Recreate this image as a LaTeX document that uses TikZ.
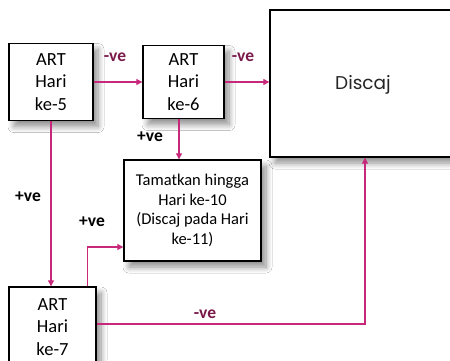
\documentclass[tikz,border=0pt]{standalone}
\usepackage{fontspec}
\setmainfont{Carlito}
\newfontfamily\discfont{Poppins}
\usetikzlibrary{arrows.meta,shadows.blur,calc}
\definecolor{arrowpink}{HTML}{C8287A}
\definecolor{negcol}{HTML}{7A1A4A}
\tikzset{
  box/.style={draw=black, line width=1.4pt, fill=white, align=center, inner sep=2pt,
    blur shadow={shadow xshift=5pt, shadow yshift=-6pt, shadow blur radius=6pt, shadow blur steps=10, shadow opacity=45}},
  conn/.style={draw=arrowpink, line width=1.1pt, -{Triangle[length=6pt,width=6pt]}},
  neglab/.style={text=negcol, font=\fontsize{17.5}{20}\selectfont\bfseries},
  poslab/.style={text=black, font=\fontsize{17.5}{20}\selectfont\bfseries},
  artfont/.style={font=\fontsize{18.5}{22.5}\selectfont},
}
\begin{document}
\begin{tikzpicture}[x=1pt,y=1pt]
\useasboundingbox (0,0) rectangle (450,-360);
\clip (0,0) rectangle (450,-360);
\fill[white] (0,0) rectangle (450,-360);
\node[box, artfont, minimum width=84pt, minimum height=77pt] (art5) at (51,-82) {ART\\Hari\\ke-5};
\node[box, artfont, minimum width=81pt, minimum height=73pt] (art6) at (183.5,-82) {ART\\Hari\\ke-6};
\node[box, minimum width=190pt, minimum height=147pt] (disc) at (365,-83.5) {};
\node[font=\discfont\fontsize{18.5}{20}\selectfont, text=black!85] (disct) at (363,-85) {Discaj};
\node[box, minimum width=137pt, minimum height=101pt, font=\fontsize{16.5}{19.5}\selectfont] (tam) at (192.5,-210.5) {Tamatkan hingga\\Hari ke-10\\(Discaj pada Hari\\ke-11)};
\node[box, artfont, minimum width=87pt, minimum height=80pt] (art7) at (52.5,-327) {ART\\Hari\\ke-7};
% connectors
\draw[conn] (art5.east) -- (art6.west);
\draw[conn] (art6.east) -- (art6.east -| disc.west);
\coordinate (a6s) at ($(art6.south)+(-4.5,0)$);
\draw[conn] (a6s) -- (a6s |- tam.north);
\coordinate (a5s) at (art5.south);
\draw[conn] (a5s) -- (a5s |- art7.north);
\coordinate (a7n) at ($(art7.north east)+(-9,0)$);
\coordinate (tamw) at ($(tam.west)+(0,-36.5)$);
\draw[conn] (a7n) |- (tamw);
\coordinate (a7e) at ($(art7.east)+(0,3)$);
\draw[conn] (a7e) -| (disc.south);
% labels
\node[neglab] (l1) at (115,-57) {-ve};
\node[neglab] (l2) at (243,-57) {-ve};
\node[poslab] (l3) at (150,-137) {+ve};
\node[poslab] (l4) at (28,-197) {+ve};
\node[poslab] (l5) at (92,-222) {+ve};
\node[neglab] (l6) at (205,-314) {-ve};
\end{tikzpicture}
\end{document}
